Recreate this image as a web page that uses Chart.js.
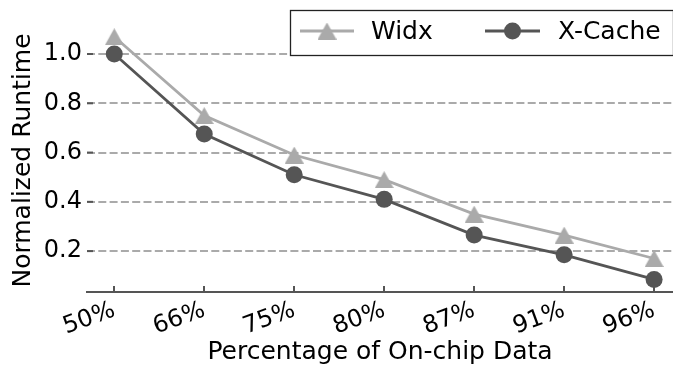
<!DOCTYPE html>
<html>
<head>
<meta charset="utf-8">
<script src="https://cdn.jsdelivr.net/npm/chart.js@4.4.1/dist/chart.umd.min.js"></script>
<style>
  html, body { margin: 0; padding: 0; background: #ffffff; }
  #wrap { width: 673px; height: 366px; position: relative; }
</style>
</head>
<body>
<div id="wrap"><canvas id="chart"></canvas></div>
<script>
// Categories along the x axis
const categories = ['50%', '66%', '75%', '80%', '87%', '91%', '96%'];
// Normalized runtime per configuration
const widxValues = [1.07, 0.75, 0.59, 0.49, 0.35, 0.265, 0.17];
const xcacheValues = [1.0, 0.675, 0.51, 0.41, 0.265, 0.185, 0.085];
// Y axis tick positions
const yTickValues = [0.2, 0.4, 0.6, 0.8, 1.0];
const seriesNames = ['Widx', 'X-Cache'];

const FONT = "'DejaVu Sans', 'Liberation Sans', sans-serif";
const LIGHT = '#aaaaaa';
const DARK = '#555555';

// Upward-pointing triangle marker (wider base, like a classic plotting marker)
function triangleMarker(w, h, color) {
  const c = document.createElement('canvas');
  c.width = w; c.height = h;
  const g = c.getContext('2d');
  g.fillStyle = color;
  g.beginPath();
  g.moveTo(w / 2, 0);
  g.lineTo(w, h);
  g.lineTo(0, h);
  g.closePath();
  g.fill();
  return c;
}
const tri = triangleMarker(19, 17, LIGHT);

const toPoints = vals => vals.map((v, i) => ({ x: i, y: v }));

// Inward tick marks and the boxed legend
const decor = {
  id: 'decor',
  afterDraw(chart) {
    const { ctx, chartArea: a, scales: { x, y } } = chart;
    ctx.save();
    ctx.strokeStyle = DARK;
    ctx.lineWidth = 2;
    categories.forEach((_, i) => {
      const px = Math.round(x.getPixelForValue(i));
      ctx.beginPath();
      ctx.moveTo(px, a.bottom);
      ctx.lineTo(px, a.bottom - 6);
      ctx.stroke();
    });
    yTickValues.forEach(v => {
      const py = y.getPixelForValue(v);
      ctx.beginPath();
      ctx.moveTo(a.left, py);
      ctx.lineTo(a.left + 6, py);
      ctx.stroke();
    });

    // legend box
    const bx = 290.5, by = 10.5, bw = 383, bh = 45;
    ctx.fillStyle = '#ffffff';
    ctx.fillRect(bx, by, bw, bh);
    ctx.strokeStyle = '#222222';
    ctx.lineWidth = 1.3;
    ctx.strokeRect(bx, by, bw, bh);
    const cy = 31;
    // Widx sample
    ctx.strokeStyle = LIGHT; ctx.lineWidth = 2.8;
    ctx.beginPath(); ctx.moveTo(300, cy); ctx.lineTo(354, cy); ctx.stroke();
    ctx.drawImage(tri, 327 - tri.width / 2, cy - tri.height / 2);
    // X-Cache sample
    ctx.strokeStyle = DARK;
    ctx.beginPath(); ctx.moveTo(485, cy); ctx.lineTo(540, cy); ctx.stroke();
    ctx.fillStyle = DARK;
    ctx.beginPath(); ctx.arc(512.5, cy, 8.5, 0, Math.PI * 2); ctx.fill();
    // labels
    ctx.fillStyle = '#000000';
    ctx.font = `25px ${FONT}`;
    ctx.textBaseline = 'middle';
    ctx.textAlign = 'left';
    ctx.fillText(seriesNames[0], 371, cy + 1);
    ctx.fillText(seriesNames[1], 558, cy + 1);
    ctx.restore();
  }
};

new Chart(document.getElementById('chart'), {
  type: 'line',
  data: {
    datasets: [
      {
        label: seriesNames[0],
        data: toPoints(widxValues),
        borderColor: LIGHT,
        backgroundColor: LIGHT,
        borderWidth: 2.8,
        pointStyle: tri,
        pointRadius: 9,
        pointHoverRadius: 9,
        clip: false,
        tension: 0
      },
      {
        label: seriesNames[1],
        data: toPoints(xcacheValues),
        borderColor: DARK,
        backgroundColor: DARK,
        borderWidth: 2.8,
        pointStyle: 'circle',
        pointRadius: 8.5,
        pointHoverRadius: 8.5,
        pointBorderWidth: 0,
        clip: false,
        tension: 0
      }
    ]
  },
  options: {
    responsive: true,
    maintainAspectRatio: false,
    animation: false,
    events: [],
    layout: { autoPadding: false, padding: { top: 29, right: 0, left: 0, bottom: 0 } },
    plugins: { legend: { display: false }, tooltip: { enabled: false } },
    scales: {
      x: {
        type: 'linear',
        min: -0.303,
        max: 6.21,
        afterBuildTicks: s => { s.ticks = categories.map((_, i) => ({ value: i })); },
        afterFit: s => { s.height = 74; s.paddingLeft = 0; s.paddingRight = 0; },
        grid: { display: false },
        border: { display: true, color: DARK, width: 2 },
        ticks: {
          autoSkip: false,
          minRotation: 20,
          maxRotation: 20,
          padding: -4,
          color: '#000000',
          font: { family: FONT, size: 24 },
          callback: v => categories[v]
        },
        title: {
          display: true,
          text: 'Percentage of On-chip Data',
          color: '#000000',
          font: { family: FONT, size: 25, lineHeight: 1.1 },
          padding: { top: 0, bottom: 0 }
        }
      },
      y: {
        min: 0.034,
        max: 1.1016,
        afterBuildTicks: s => { s.ticks = yTickValues.map(v => ({ value: v })); },
        afterFit: s => { s.width = 87; },
        grid: { color: LIGHT, lineWidth: 2, drawTicks: false },
        border: { display: false, dash: [8, 3.3] },
        ticks: {
          padding: 5,
          color: '#000000',
          font: { family: FONT, size: 24 },
          callback: v => v.toFixed(1)
        },
        title: {
          display: true,
          text: 'Normalized Runtime',
          color: '#000000',
          font: { family: FONT, size: 25, lineHeight: 1.1 },
          padding: { top: 10, bottom: 0 }
        }
      }
    }
  },
  plugins: [decor]
});
</script>
</body>
</html>
